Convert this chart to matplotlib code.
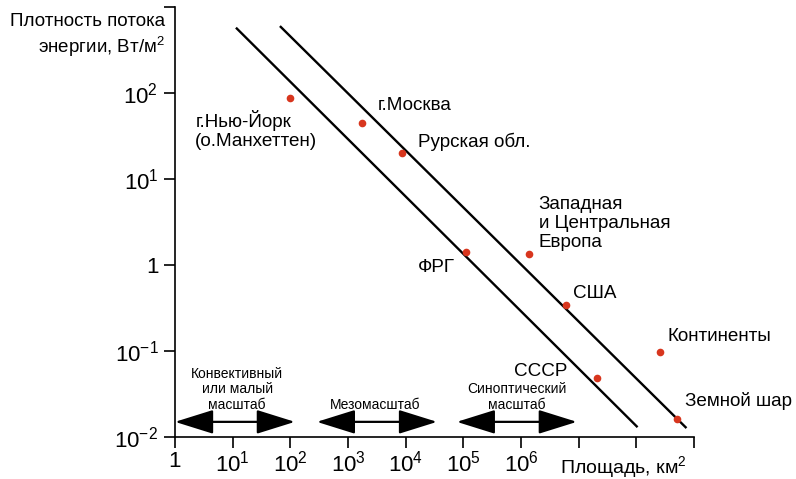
import matplotlib
matplotlib.use('Agg')
import matplotlib.pyplot as plt
from matplotlib.patches import FancyArrowPatch

plt.rcParams['font.family'] = ['Liberation Sans', 'DejaVu Sans']
plt.rcParams['mathtext.fontset'] = 'custom'
plt.rcParams['mathtext.rm'] = 'Liberation Sans'
plt.rcParams['mathtext.it'] = 'Liberation Sans:italic'
plt.rcParams['mathtext.bf'] = 'Liberation Sans:bold'

# data
names = ['г.Нью-Йорк\n(о.Манхеттен)', 'г.Москва', 'Рурская обл.',
         'Западная\nи Центральная\nЕвропа', 'ФРГ', 'США', 'Континенты',
         'СССР', 'Земной шар']
area = [100, 1740, 8600, 1.36e6, 1.1e5, 6e6, 2.6e8, 2.1e7, 5e8]
flux = [87, 45, 20, 1.35, 1.4, 0.34, 0.098, 0.049, 0.016]

line1_x = [11.4, 1.05e8]
line1_y = [575, 0.013]
line2_x = [66, 7.4e8]
line2_y = [600, 0.0127]

scale_names = ['Конвективный\nили малый\nмасштаб', 'Мезомасштаб',
               'Синоптический\nмасштаб']
scale_from = [1, 288, 7.7e4]
scale_to = [120, 3.5e4, 9.3e6]
scale_y = 0.015
scale_text_x = [12, 2950, 8.5e5]
scale_text_y = [0.036, 0.0236, 0.029]

xticks = [10.0 ** k for k in range(0, 10)]
xticklabels = ['1'] + [r'$\mathregular{10^{%d}}$' % k for k in range(1, 7)] + ['', '', '']
yticks = [10.0 ** k for k in range(-2, 4)]
yticklabels = [r'$\mathregular{10^{-2}}$', r'$\mathregular{10^{-1}}$', '1',
               r'$\mathregular{10^{1}}$', r'$\mathregular{10^{2}}$', '']

# label placement: offset in pixels from the point, alignment
offsets = [(-95, -12, 'left', 'top'), (16, 17, 'left', 'center'),
           (16, 11, 'left', 'center'), (10, 58, 'left', 'top'),
           (-11, -15, 'right', 'center'), (7, 12, 'left', 'center'),
           (7, 15, 'left', 'center'), (-30, 6, 'right', 'center'),
           (8, 18, 'left', 'center')]

fig = plt.figure(figsize=(7.96, 4.79), dpi=100)
ax = fig.add_axes([175 / 796, 1 - 437 / 479, (694 - 175) / 796, (437 - 7) / 479])
ax.set_xscale('log')
ax.set_yscale('log')
ax.set_xlim(1, 1e9)
ax.set_ylim(1e-2, 1e3)

ax.plot(line1_x, line1_y, color='black', lw=1.7, solid_capstyle='butt')
ax.plot(line2_x, line2_y, color='black', lw=1.7, solid_capstyle='butt')
ax.plot(area, flux, 'o', color='#d8361e', ms=5.5, mec='none', zorder=3)

for name, x, y, (dx, dy, ha, va) in zip(names, area, flux, offsets):
    ax.annotate(name, (x, y), xytext=(dx, dy), textcoords='offset pixels',
                ha=ha, va=va, fontsize=13.6, multialignment='left',
                linespacing=1.15)

for name, x0, x1, tx, ty in zip(scale_names, scale_from, scale_to, scale_text_x, scale_text_y):
    arr = FancyArrowPatch((x0, scale_y), (x1, scale_y),
                          arrowstyle='<|-|>,head_length=2.4,head_width=0.75',
                          mutation_scale=10, lw=1.6, color='black',
                          shrinkA=0, shrinkB=0, clip_on=False)
    ax.add_patch(arr)
    ax.text(tx, ty, name, ha='center', va='center', fontsize=10,
            multialignment='center', linespacing=1.15)

ax.set_xticks(xticks)
ax.set_xticklabels(xticklabels)
ax.set_yticks(yticks)
ax.set_yticklabels(yticklabels)
ax.minorticks_off()
ax.tick_params(axis='both', direction='out', length=8, width=1.2, labelsize=16)
ax.tick_params(axis='x', pad=2)
ax.tick_params(axis='y', pad=4)
for s in ['top', 'right']:
    ax.spines[s].set_visible(False)
for s in ['left', 'bottom']:
    ax.spines[s].set_linewidth(1.2)

fig.text(165 / 796, 1 - 36 / 479, 'Плотность потока\nэнергии, Вт/м$^{2}$',
         ha='right', va='center', fontsize=13.5, multialignment='right',
         linespacing=1.25)
fig.text(560 / 796, 1 - 473 / 479, 'Площадь, км$^{2}$', ha='left', va='baseline',
         fontsize=14)

fig.savefig('out.png', dpi=100)
